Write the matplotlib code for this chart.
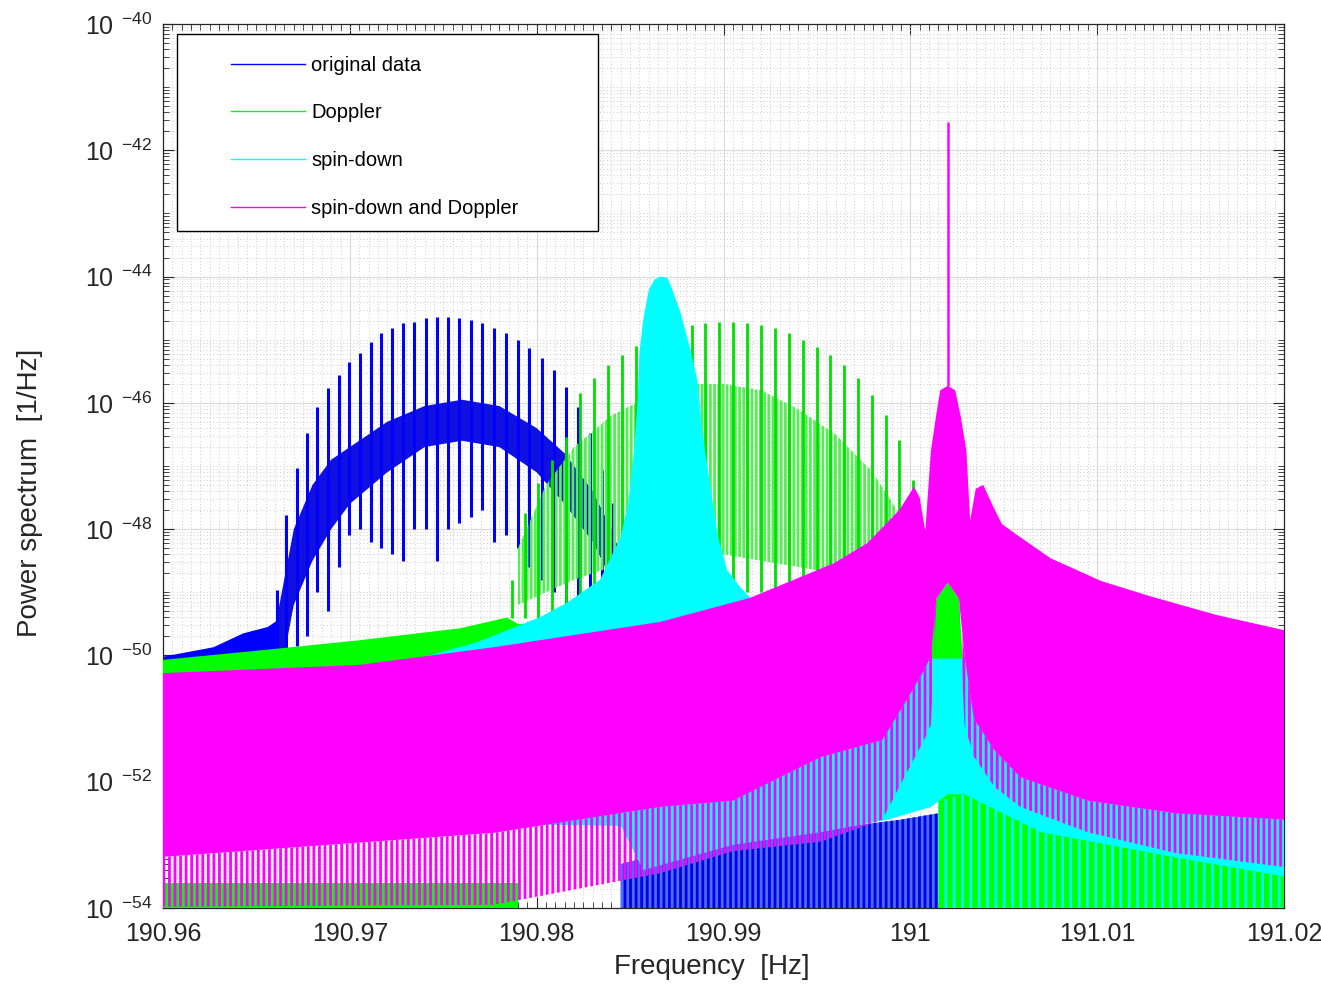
import matplotlib
matplotlib.use('Agg')
import matplotlib.pyplot as plt
import numpy as np
from matplotlib.lines import Line2D
from matplotlib.patches import Rectangle
from matplotlib.ticker import FixedLocator, LogLocator, MultipleLocator, NullFormatter

plt.rcParams['font.family'] = ['Liberation Sans', 'DejaVu Sans']
plt.rcParams['mathtext.fontset'] = 'custom'
plt.rcParams['mathtext.rm'] = 'Liberation Sans'
plt.rcParams['mathtext.default'] = 'regular'
plt.rcParams['hatch.linewidth'] = 2.0

# ---- values: frequency [Hz], log10 of power [1/Hz] ----
FLOOR = -55.0

# original data (blue): floor, comb body, comb teeth, bottom part
orig_floor_f = [190.9600, 190.9627, 190.9643, 190.9656, 190.9661]
orig_floor_top = [-50.02, -49.87, -49.65, -49.55, -49.45]
orig_floor_low = [-50.60, -50.60, -50.60, -50.60, -50.60]

orig_body_f = [190.9661, 190.9670, 190.9680, 190.9690, 190.9700, 190.9720, 190.9740,
               190.9760, 190.9780, 190.9800, 190.9815, 190.9830, 190.9840, 190.9850,
               190.9900, 191.0000, 191.0100, 191.0200]
orig_body_top = [-49.40, -48.00, -47.30, -46.90, -46.70, -46.30, -46.05,
                 -45.95, -46.05, -46.40, -46.80, -47.40, -48.00, -48.80,
                 -49.60, -50.20, -50.60, -50.80]
orig_body_low = [-50.60, -49.20, -48.50, -48.00, -47.60, -47.10, -46.70,
                 -46.60, -46.70, -47.10, -47.60, -48.20, -48.80, -49.60,
                 -50.40, -51.00, -51.40, -51.60]

orig_comb_f = [190.96608, 190.96658, 190.96716, 190.96769, 190.96826, 190.96882, 190.96942,
               190.96997, 190.97054, 190.97112, 190.97167, 190.97227, 190.97286, 190.97345,
               190.97406, 190.97465, 190.97527, 190.97586, 190.97649, 190.97709, 190.97772,
               190.97836, 190.97898, 190.97961, 190.98027, 190.98094, 190.98157, 190.98223,
               190.98286, 190.98348, 190.98409]
orig_comb_top = [-48.96, -47.78, -47.03, -46.48, -46.07, -45.77, -45.56,
                 -45.35, -45.21, -45.04, -44.89, -44.81, -44.74, -44.72,
                 -44.66, -44.64, -44.64, -44.66, -44.69, -44.74, -44.81,
                 -44.89, -45.00, -45.13, -45.29, -45.48, -45.75, -46.07,
                 -46.48, -47.06, -47.59]
orig_comb_dip = [-49.90, -49.90, -49.85, -49.70, -49.00, -49.30, -48.60,
                 -48.10, -48.00, -48.20, -48.30, -48.40, -48.50, -48.00,
                 -48.00, -48.50, -48.00, -47.90, -47.80, -47.70, -48.20,
                 -48.10, -48.30, -48.60, -48.80, -49.00, -49.20, -49.30,
                 -49.40, -49.50, -49.60]

orig_bot_f = [190.9845, 190.9887, 190.9941, 190.9995, 191.0015]
orig_bot_top = [-53.30, -53.00, -52.80, -52.60, -52.50]

# Doppler (green)
dop_floor_f = [190.9600, 190.9652, 190.9705, 190.9759, 190.9784, 190.9790, 190.9840, 190.9900,
               191.0000, 191.0011, 191.0014, 191.0020, 191.0026, 191.0029, 191.0100, 191.0200]
dop_floor_top = [-50.07, -49.92, -49.76, -49.57, -49.40, -49.50, -49.50, -49.50,
                 -49.50, -49.60, -49.10, -48.85, -49.10, -50.50, -51.00, -51.20]
dop_floor_low = [-50.60, -50.60, -50.60, -50.60, -50.60, -50.60, -50.60, -50.60,
                 -50.60, -50.60, -50.20, -50.20, -50.20, -51.00, -51.50, -51.60]

dop_body_f = [190.9790, 190.9805, 190.9820, 190.9840, 190.9860, 190.9880, 190.9900,
              190.9920, 190.9940, 190.9960, 190.9980, 190.9995, 191.0003]
dop_body_top = [-48.30, -47.30, -46.70, -46.20, -45.90, -45.70, -45.70,
                -45.80, -46.10, -46.50, -47.10, -47.80, -48.40]
dop_body_low = [-49.20, -49.00, -48.80, -48.60, -48.50, -48.40, -48.40,
                -48.50, -48.60, -48.70, -48.80, -48.90, -49.00]

dop_comb_f = [190.97870, 190.97938, 190.98007, 190.98082, 190.98157, 190.98232, 190.98307,
              190.98382, 190.98457, 190.98532, 190.98607, 190.98682, 190.98757, 190.98831,
              190.98901, 190.98976, 190.99051, 190.99126, 190.99201, 190.99276, 190.99351,
              190.99426, 190.99501, 190.99570, 190.99645, 190.99720, 190.99795, 190.99870,
              190.99939, 191.00014]
dop_comb_top = [-48.80, -47.74, -47.27, -46.91, -46.54, -45.84, -45.61,
                -45.40, -45.24, -45.10, -44.93, -44.83, -44.78, -44.77,
                -44.74, -44.72, -44.72, -44.74, -44.77, -44.81, -44.89,
                -45.00, -45.12, -45.24, -45.40, -45.61, -45.88, -46.19,
                -46.59, -47.22]
dop_comb_dip = [-49.40, -49.40, -49.40, -49.30, -49.30, -49.20, -49.20,
                -49.10, -49.10, -49.00, -49.00, -49.00, -49.00, -49.00,
                -49.00, -49.00, -49.00, -49.00, -49.00, -49.00, -49.00,
                -49.00, -49.00, -49.00, -48.90, -48.80, -48.70, -48.50,
                -48.30, -48.00]

dop_botl_f = [190.9600, 190.9700, 190.9790]
dop_botl_top = [-53.60, -53.60, -53.60]
dop_botr_f = [191.0015, 191.0029, 191.0070, 191.0142, 191.0200]
dop_botr_top = [-52.20, -52.00, -52.60, -53.00, -53.30]

# spin-down (cyan)
sdn_top_f = [190.9600, 190.9700, 190.9768, 190.9780, 190.9802, 190.9816, 190.9834, 190.9839,
             190.9845, 190.9849, 190.9852, 190.9854, 190.9855, 190.9857, 190.9860, 190.9863,
             190.9866, 190.9870, 190.9872, 190.9877, 190.9882, 190.9886, 190.9889, 190.9893,
             190.9897, 190.9902, 190.9909, 190.9914, 190.9950, 190.9990, 191.0012, 191.0028,
             191.0040, 191.0100, 191.0200]
sdn_top = [-50.40, -50.35, -49.79, -49.65, -49.39, -49.17, -48.80, -48.49,
           -48.12, -47.59, -46.79, -46.00, -45.21, -44.69, -44.21, -44.05,
           -44.00, -44.02, -44.16, -44.57, -45.12, -45.64, -46.54, -47.33,
           -48.12, -48.65, -48.92, -49.08, -49.50, -50.00, -50.05, -50.05,
           -50.30, -50.50, -50.60]
sdn_low_f = [190.9600, 190.9845, 190.9857, 190.9905, 190.9952, 190.9988, 191.0011,
             191.0020, 191.0029, 191.0070, 191.0142, 191.0200]
sdn_low = [-52.60, -52.70, -53.40, -53.00, -52.80, -52.60, -52.40,
           -52.20, -52.20, -52.80, -53.20, -53.50]
sdn_botr_f = [191.0015, 191.0029, 191.0070, 191.0142, 191.0200]
sdn_botr_top = [-52.30, -52.20, -52.80, -53.20, -53.50]

# spin-down and Doppler (magenta)
sd_top_f = [190.9600, 190.9705, 190.9777, 190.9866, 190.9914, 190.9959, 190.9977, 190.9994,
            191.0002, 191.0005, 191.0008, 191.0011, 191.0014, 191.0016, 191.0020, 191.0024,
            191.0027, 191.0030, 191.0032, 191.0035, 191.0039, 191.0044, 191.0049, 191.0057,
            191.0075, 191.0102, 191.0128, 191.0164, 191.0200]
sd_top = [-50.28, -50.15, -49.87, -49.47, -49.09, -48.54, -48.22, -47.70,
          -47.33, -47.50, -48.03, -46.76, -46.16, -45.80, -45.73, -45.80,
          -46.22, -46.76, -47.86, -47.36, -47.30, -47.62, -47.92, -48.09,
          -48.46, -48.82, -49.06, -49.36, -49.60]
sd_low_f = [190.9600, 190.9777, 190.9866, 190.9905, 190.9952, 190.9985, 190.9998, 191.0008,
            191.0011, 191.0014, 191.0020, 191.0026, 191.0029, 191.0034, 191.0045, 191.0059,
            191.0095, 191.0142, 191.0200]
sd_low = [-53.19, -52.81, -52.40, -52.30, -51.61, -51.34, -50.71, -50.20,
          -50.00, -49.10, -48.85, -49.10, -50.00, -51.00, -51.50, -51.93,
          -52.30, -52.50, -52.60]
sd_teeth = [-53.98, -53.95, -53.45, -53.10, -52.95, -52.60, -51.86, -51.30,
            -51.10, -49.10, -48.85, -49.10, -51.10, -51.60, -52.08, -52.40,
            -52.80, -53.13, -53.35]
sd_peak_f = 191.0020
sd_peak = -41.55

series_names = ['original data', 'Doppler', 'spin-down', 'spin-down and Doppler']
series_colors = ['#0000ff', '#00ff00', '#00ffff', '#ff00ff']

xticks = [190.96, 190.97, 190.98, 190.99, 191.00, 191.01, 191.02]
xtick_labels = ['190.96', '190.97', '190.98', '190.99', '191', '191.01', '191.02']
ytick_exp = [-54, -52, -50, -48, -46, -44, -42, -40]


def band(ax, f_top, top, f_low, low, **kw):
    xs = np.concatenate([np.asarray(f_top), np.asarray(f_low)[::-1]])
    ys = np.concatenate([np.asarray(top), np.asarray(low)[::-1]])
    return ax.fill(xs, 10.0 ** ys, **kw)


def to_floor(f):
    return np.full(len(f), FLOOR)


fig = plt.figure(figsize=(13.21, 9.89), dpi=100)
ax = fig.add_axes([0.1234, 0.0819, 0.8486, 0.8938])
ax.set_yscale('log')

c_b, c_g, c_c, c_m = series_colors

# original data
band(ax, orig_floor_f, orig_floor_top, orig_floor_f, orig_floor_low, color=c_b, lw=0, zorder=2)
band(ax, orig_body_f, orig_body_top, orig_body_f, orig_body_low, color='#1010e0', lw=0, zorder=2)
ax.vlines(orig_comb_f, 10.0 ** np.array(orig_comb_dip), 10.0 ** np.array(orig_comb_top),
          colors=c_b, lw=2.2, zorder=2)
band(ax, orig_bot_f, orig_bot_top, orig_bot_f, to_floor(orig_bot_f), facecolor='#4a6cff',
     edgecolor='#0000e0', hatch='|||', lw=0, zorder=2)

# Doppler
band(ax, dop_floor_f, dop_floor_top, dop_floor_f, dop_floor_low, color=c_g, lw=0, zorder=3)
band(ax, dop_body_f, dop_body_top, dop_body_f, dop_body_low, facecolor='none',
     edgecolor='#55ee55', hatch='||||', lw=0, zorder=3)
ax.vlines(dop_comb_f, 10.0 ** np.array(dop_comb_dip), 10.0 ** np.array(dop_comb_top),
          colors='#00e000', lw=2.0, zorder=3)
band(ax, dop_botl_f, dop_botl_top, dop_botl_f, to_floor(dop_botl_f), color=c_g, lw=0, zorder=3)
band(ax, dop_botr_f, dop_botr_top, dop_botr_f, to_floor(dop_botr_f), color=c_g, lw=0, zorder=3)

# spin-down
band(ax, sdn_top_f, sdn_top, sdn_low_f, sdn_low, color=c_c, lw=0, zorder=4)
band(ax, sdn_botr_f, sdn_botr_top, sdn_botr_f, to_floor(sdn_botr_f), facecolor='none',
     edgecolor=c_c, hatch='||', lw=0, zorder=4)

# spin-down and Doppler
band(ax, sd_top_f, sd_top, sd_low_f, sd_low, color=c_m, lw=0, zorder=5)
band(ax, sd_low_f, sd_low, sd_low_f, sd_teeth, facecolor='none', edgecolor=c_m,
     hatch='|||', lw=0, zorder=5)
ax.vlines([sd_peak_f], 10.0 ** sd_top[sd_top_f.index(sd_peak_f)], 10.0 ** sd_peak,
          colors=c_m, lw=1.8, zorder=5)

# axes
ax.set_xlim(190.96, 191.02)
ax.set_ylim(1e-54, 1e-40)
ax.xaxis.set_major_locator(FixedLocator(xticks))
ax.set_xticklabels(xtick_labels)
ax.xaxis.set_minor_locator(MultipleLocator(0.0005))
ax.yaxis.set_major_locator(FixedLocator(10.0 ** np.array(ytick_exp, dtype=float)))
ax.set_yticklabels([r'$10\ {}^{%d}$' % e for e in ytick_exp])
ax.yaxis.set_minor_locator(LogLocator(base=10, subs=np.arange(1, 10), numticks=200))
ax.yaxis.set_minor_formatter(NullFormatter())

ax.set_axisbelow(True)
ax.grid(which='major', color='#dadada', lw=0.8, ls='-')
ax.grid(which='minor', color='#bcbcbc', lw=0.6, ls=(0, (1, 3)))
ax.tick_params(which='both', direction='in', top=True, right=True, colors='#262626')
ax.tick_params(which='major', length=8, width=0.8, labelsize=18)
ax.tick_params(axis='x', which='major', pad=10)
ax.tick_params(axis='y', which='major', pad=8)
ax.tick_params(which='minor', length=4, width=0.6)
for sp in ax.spines.values():
    sp.set_color('#262626')
    sp.set_linewidth(0.9)

ax.set_xlabel('Frequency  [Hz]', fontsize=20, color='#262626')
ax.set_ylabel('Power spectrum  [1/Hz]', fontsize=20, color='#262626')
ax.xaxis.set_label_coords(0.49, -0.052)
ax.yaxis.set_label_coords(-0.107, 0.4695)

# legend box and entries
ax.add_patch(Rectangle((0.0125, 0.766), 0.3755, 0.2227, transform=ax.transAxes,
                       facecolor='white', edgecolor='black', lw=1.0, zorder=10))
handles = [Line2D([], [], color=c, lw=1.0) for c in series_colors]
leg = ax.legend(handles, series_names, loc='upper left', bbox_to_anchor=(0.0607, 0.964),
                frameon=False, fontsize=14.5, handlelength=3.68, handletextpad=0.3,
                labelspacing=1.42, borderpad=0, borderaxespad=0)
leg.set_zorder(11)

fig.savefig('out.png', dpi=100)
